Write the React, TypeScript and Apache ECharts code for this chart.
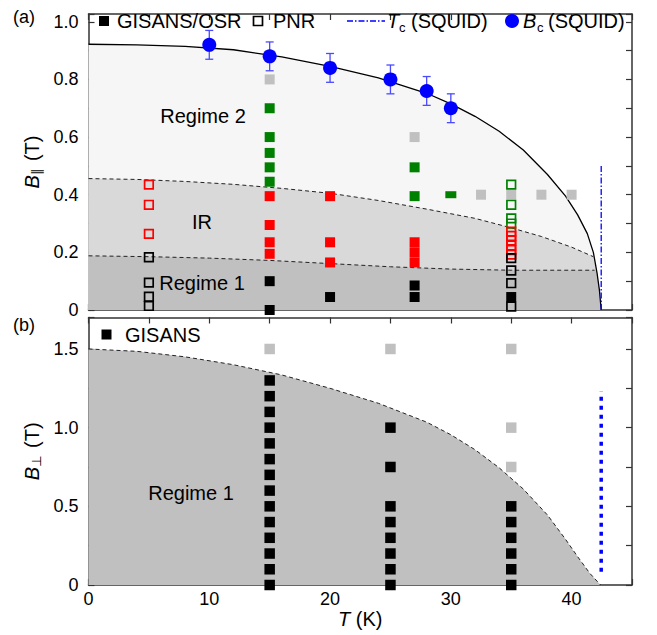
import React, { useEffect, useRef } from 'react';
import * as echarts from 'echarts';

const FONT = '"Liberation Sans", Arial, Helvetica, sans-serif';

// ---------- Panel (a): B_parallel vs T ----------
// Bc(T) solid curve
const BC_CURVE_T = [0, 4, 8, 12, 16, 20, 24, 28, 30, 32, 34, 36, 38, 39.5, 40.5, 41.3, 41.8, 42.1, 42.3, 42.45];
const BC_CURVE_B = [0.922, 0.92, 0.915, 0.903, 0.878, 0.845, 0.805, 0.752, 0.715, 0.672, 0.62, 0.555, 0.47, 0.395, 0.33, 0.265, 0.2, 0.13, 0.07, 0];
// IR / Regime 2 dashed boundary
const UPPER_T = [0, 4, 8, 12, 16, 20, 24, 28, 32, 35, 37.5, 40, 41.8];
const UPPER_B = [0.456, 0.453, 0.446, 0.436, 0.422, 0.405, 0.38, 0.35, 0.318, 0.285, 0.255, 0.218, 0.185];
const UPPER_TAIL: number[][] = [[42.1, 0.13], [42.3, 0.07], [42.45, 0]];
// Regime 1 / IR dashed boundary
const LOWER_T = [0, 5, 10, 15, 20, 25, 30, 35, 41.9];
const LOWER_B = [0.188, 0.185, 0.18, 0.172, 0.161, 0.15, 0.142, 0.138, 0.138];
const LOWER_TAIL: number[][] = [[42.05, 0.138], [42.1, 0.13], [42.3, 0.07], [42.45, 0]];

// Bc (SQUID) points with error bars
const BC_T = [10, 15, 20, 25, 28, 30];
const BC_B = [0.92, 0.88, 0.84, 0.8, 0.76, 0.7];
const BC_ERR = [0.05, 0.05, 0.05, 0.05, 0.05, 0.05];

// Tc (SQUID) vertical lines
const TC_TOP: number[][] = [[42.45, 0], [42.45, 0.5]];
const TC_BOTTOM: number[][] = [[42.45, 0.085], [42.45, 1.23]];

// GISANS/OSR filled squares
const A_BLACK: number[][] = [[15, 0.1], [15, 0], [20, 0.045], [27, 0.085], [27, 0.045], [35, 0.045]];
const A_RED: number[][] = [[15, 0.395], [15, 0.295], [15, 0.235], [15, 0.195], [20, 0.395], [20, 0.235], [20, 0.165], [27, 0.235], [27, 0.2], [27, 0.165]];
const A_GREEN: number[][] = [[15, 0.7], [15, 0.6], [15, 0.545], [15, 0.495], [15, 0.445], [27, 0.495], [27, 0.395]];
const A_GREEN_SMALL: number[][] = [[30, 0.4]];
const A_GRAY: number[][] = [[15, 0.8], [27, 0.6], [32.5, 0.4], [35, 0.4], [37.5, 0.4], [40, 0.4]];
// PNR open squares
const P_BLACK: number[][] = [[5, 0.183], [5, 0.095], [5, 0.046], [5, 0.014], [35, 0.18], [35, 0.137], [35, 0.093], [35, 0.012]];
const P_RED: number[][] = [[5, 0.435], [5, 0.365], [5, 0.264], [35, 0.272], [35, 0.257], [35, 0.241], [35, 0.224], [35, 0.208], [35, 0.192]];
const P_GREEN: number[][] = [[35, 0.435], [35, 0.365], [35, 0.318], [35, 0.3]];

// ---------- Panel (b): B_perp vs T ----------
const PERP_CURVE_T = [0, 4, 8, 12, 16, 20, 24, 28, 30, 32, 34, 36, 38, 39.5, 40.5, 41.5, 42.4];
const PERP_CURVE_B = [1.5, 1.485, 1.45, 1.4, 1.335, 1.25, 1.155, 1.035, 0.955, 0.86, 0.745, 0.61, 0.445, 0.29, 0.18, 0.075, 0];
const B_BLACK: number[][] = [
  [15, 1.3], [15, 1.2], [15, 1.1], [15, 1.0], [15, 0.9], [15, 0.8], [15, 0.7], [15, 0.6], [15, 0.5], [15, 0.4], [15, 0.3], [15, 0.2], [15, 0.1], [15, 0],
  [25, 1.0], [25, 0.75], [25, 0.5], [25, 0.4], [25, 0.3], [25, 0.2], [25, 0.1], [25, 0],
  [35, 0.5], [35, 0.4], [35, 0.3], [35, 0.2], [35, 0.1], [35, 0],
];
const B_GRAY: number[][] = [[15, 1.5], [25, 1.5], [35, 1.5], [35, 1.0], [35, 0.75]];

const zip = (a: number[], b: number[]) => a.map((v, i) => [v, b[i]]);

const AXIS_COLOR = '#333';
const RED = '#ff0000';
const GREEN = '#008000';
const GRAY = '#c0c0c0';
const BLUE = '#0000ff';

function xAxisDef(grid: number, position: 'bottom' | 'top', labels: boolean) {
  return {
    type: 'value', gridIndex: grid, position, min: 0, max: 45, interval: 5,
    splitLine: { show: false },
    axisLine: { show: true, onZero: false, lineStyle: { color: AXIS_COLOR, width: 1.5 } },
    axisTick: { show: true, inside: true, length: 6, lineStyle: { color: AXIS_COLOR, width: 1.2 } },
    axisLabel: {
      show: labels, margin: 5, fontSize: 18, color: '#000', fontFamily: FONT,
      formatter: (v: number) => (Math.abs(v % 10) < 1e-9 ? String(v) : ''),
    },
    ...(labels ? {
      name: '{i|T} (K)', nameLocation: 'middle', nameGap: 23,
      nameTextStyle: { fontSize: 20, color: '#000', fontFamily: FONT, rich: { i: { fontStyle: 'italic', fontSize: 20, fontFamily: FONT, color: '#000' } } },
    } : {}),
  };
}

function yAxisDef(grid: number, position: 'left' | 'right', max: number, interval: number, labelStep: number, name?: string) {
  return {
    type: 'value', gridIndex: grid, position, min: 0, max, interval,
    splitLine: { show: false },
    axisLine: { show: true, onZero: false, lineStyle: { color: AXIS_COLOR, width: 1.5 } },
    axisTick: { show: true, inside: true, length: 6, lineStyle: { color: AXIS_COLOR, width: 1.2 } },
    axisLabel: {
      show: position === 'left', margin: 10, fontSize: 18, color: '#000', fontFamily: FONT,
      formatter: (v: number) => {
        const k = v / labelStep;
        if (Math.abs(k - Math.round(k)) > 1e-6) return '';
        return Math.abs(v) < 1e-9 ? '0' : v.toFixed(1);
      },
    },
    ...(name ? {
      name, nameLocation: 'middle', nameGap: 46, nameRotate: 90,
      nameTextStyle: {
        fontSize: 20, color: '#000', fontFamily: FONT,
        rich: {
          i: { fontStyle: 'italic', fontSize: 20, fontFamily: FONT, color: '#000' },
          s: { fontSize: 13, fontFamily: 'DejaVu Sans', color: '#000', verticalAlign: 'bottom', padding: [9, 2, 0, 0] },
        },
      },
    } : {}),
  };
}

function fillSeries(data: number[][], color: string, z: number, xi: number, yi: number) {
  return {
    type: 'line', xAxisIndex: xi, yAxisIndex: yi, data, symbol: 'none', smooth: false,
    lineStyle: { width: 0, opacity: 0 }, areaStyle: { color, opacity: 1 }, z, silent: true,
  };
}

function lineSeries(data: number[][], type: any, width: number, color: string, xi: number, yi: number) {
  return {
    type: 'line', xAxisIndex: xi, yAxisIndex: yi, data, symbol: 'none', smooth: false,
    lineStyle: { width, color, type }, z: 4, silent: true,
  };
}

function filled(data: number[][], color: string, xi: number, yi: number, size: any = 10) {
  return {
    type: 'scatter', xAxisIndex: xi, yAxisIndex: yi, data, symbol: 'rect', symbolSize: size,
    itemStyle: { color, opacity: 1 }, z: 6, silent: true,
  };
}

function open(data: number[][], color: string, xi: number, yi: number) {
  return {
    type: 'scatter', xAxisIndex: xi, yAxisIndex: yi, data, symbol: 'rect', symbolSize: 8.6,
    itemStyle: { color: 'rgba(0,0,0,0)', borderColor: color, borderWidth: 1.7, opacity: 1 }, z: 6, silent: true,
  };
}

const txt = (text: string, x: number, y: number, size: number, extra: any = {}) => ({
  type: 'text', x, y, z: 100,
  style: { text, font: `${extra.italic ? 'italic ' : ''}${size}px ${FONT}`, fill: '#000', align: extra.align || 'left', verticalAlign: 'middle', textAlign: extra.align || 'left', textVerticalAlign: 'middle' },
});

export default function App() {
  const ref = useRef<HTMLDivElement>(null);
  useEffect(() => {
    const chart = echarts.init(ref.current!, null, { renderer: 'svg' });
    const upper = zip(UPPER_T, UPPER_B);
    const lower = zip(LOWER_T, LOWER_B);
    const option: any = {
      animation: false,
      backgroundColor: '#fff',
      grid: [
        { left: 88.5, top: 14, width: 543.5, height: 296 },
        { left: 88.5, top: 317.5, width: 543.5, height: 267.5 },
      ],
      xAxis: [
        xAxisDef(0, 'bottom', false),
        xAxisDef(0, 'top', false),
        xAxisDef(1, 'bottom', true),
        xAxisDef(1, 'top', false),
      ],
      yAxis: [
        yAxisDef(0, 'left', 1.027, 0.1, 0.2, '{i|B}{s|\u2225} (T)'),
        yAxisDef(0, 'right', 1.027, 0.1, 0.2),
        yAxisDef(1, 'left', 1.7, 0.25, 0.5, '{i|B}{s|\u22A5} (T)'),
        yAxisDef(1, 'right', 1.7, 0.25, 0.5),
      ],
      series: [
        // panel (a) fills
        fillSeries(zip(BC_CURVE_T, BC_CURVE_B), '#f6f6f6', 1, 0, 0),
        fillSeries([...upper, ...UPPER_TAIL], '#d9d9d9', 2, 0, 0),
        fillSeries([...lower, ...LOWER_TAIL], '#c0c0c0', 3, 0, 0),
        lineSeries(zip(BC_CURVE_T, BC_CURVE_B), 'solid', 1.3, '#000', 0, 0),
        lineSeries(upper, [4, 3], 1, '#222', 0, 0),
        lineSeries(lower, [4, 3], 1, '#222', 0, 0),
        lineSeries(TC_TOP, [6, 2, 1.5, 2], 1.3, BLUE, 0, 0),
        {
          type: 'custom', xAxisIndex: 0, yAxisIndex: 0, z: 5, silent: true,
          data: BC_T.map((t, i) => [t, BC_B[i], BC_ERR[i]]),
          encode: { x: 0, y: 1 },
          renderItem: (_p: any, api: any) => {
            const x = api.value(0), y = api.value(1), e = api.value(2);
            const a = api.coord([x, y + e]);
            const b = api.coord([x, y - e]);
            const st = { stroke: '#4a4aff', lineWidth: 1.3 };
            return {
              type: 'group', children: [
                { type: 'line', shape: { x1: a[0], y1: a[1], x2: b[0], y2: b[1] }, style: st },
                { type: 'line', shape: { x1: a[0] - 4, y1: a[1], x2: a[0] + 4, y2: a[1] }, style: st },
                { type: 'line', shape: { x1: b[0] - 4, y1: b[1], x2: b[0] + 4, y2: b[1] }, style: st },
              ],
            };
          },
        },
        {
          type: 'scatter', xAxisIndex: 0, yAxisIndex: 0, data: zip(BC_T, BC_B), symbol: 'circle', symbolSize: 14,
          itemStyle: { color: BLUE, opacity: 1 }, z: 7, silent: true,
        },
        filled(A_GRAY, GRAY, 0, 0),
        filled(A_GREEN, GREEN, 0, 0),
        filled(A_GREEN_SMALL, GREEN, 0, 0, [11, 7]),
        filled(A_RED, RED, 0, 0),
        filled(A_BLACK, '#000', 0, 0),
        open(P_GREEN, GREEN, 0, 0),
        open(P_RED, RED, 0, 0),
        open(P_BLACK, '#000', 0, 0),
        // panel (b)
        fillSeries(zip(PERP_CURVE_T, PERP_CURVE_B), '#c0c0c0', 1, 2, 2),
        lineSeries(zip(PERP_CURVE_T, PERP_CURVE_B), [4, 3], 1, '#222', 2, 2),
        lineSeries(TC_BOTTOM, [4, 5], 3.5, BLUE, 2, 2),
        filled(B_GRAY, GRAY, 2, 2, 10.5),
        filled(B_BLACK, '#000', 2, 2, 10.5),
      ],
      graphic: [
        txt('(a)', 13, 17, 18),
        txt('(b)', 13, 325, 18),
        // legend (a)
        { type: 'rect', shape: { x: 99, y: 16, width: 10, height: 10 }, style: { fill: '#000' }, z: 100 },
        txt('GISANS/OSR', 117, 21, 20),
        { type: 'rect', shape: { x: 253.5, y: 16.5, width: 9, height: 9 }, style: { fill: 'none', stroke: '#000', lineWidth: 1.7 }, z: 100 },
        txt('PNR', 273, 21, 20),
        { type: 'line', shape: { x1: 347, y1: 21, x2: 385, y2: 21 }, style: { stroke: BLUE, lineWidth: 1.3, lineDash: [6, 2, 1.5, 2] }, z: 100 },
        txt('T', 387, 21, 20, { italic: true }),
        txt('c', 399, 27, 13),
        txt('(SQUID)', 411, 21, 20),
        { type: 'circle', shape: { cx: 512, cy: 21, r: 7 }, style: { fill: BLUE }, z: 100 },
        txt('B', 523, 21, 20, { italic: true }),
        txt('c', 537, 27, 13),
        txt('(SQUID)', 548, 21, 20),
        // legend (b)
        { type: 'rect', shape: { x: 101.5, y: 329.5, width: 10, height: 10 }, style: { fill: '#000' }, z: 100 },
        txt('GISANS', 125, 335, 20),
        // region labels
        txt('Regime 2', 203, 116, 20, { align: 'center' }),
        txt('IR', 202, 222, 20, { align: 'center' }),
        txt('Regime 1', 202, 283, 20, { align: 'center' }),
        txt('Regime 1', 191, 493, 20, { align: 'center' }),
      ],
    };
    chart.setOption(option);
    return () => chart.dispose();
  }, []);
  return <div ref={ref} style={{ position: 'absolute', left: 0, top: 0, width: 657, height: 635 }} />;
}
